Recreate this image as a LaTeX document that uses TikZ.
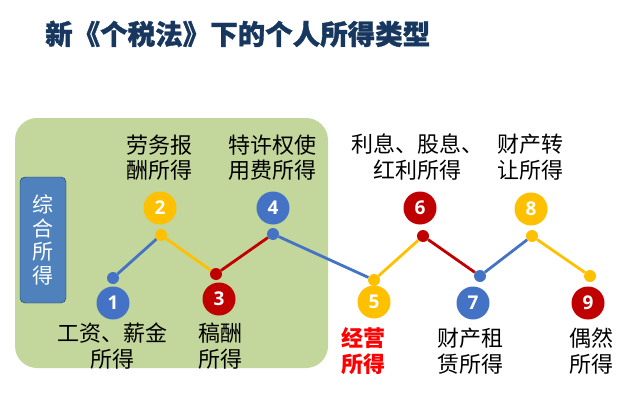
\documentclass[tikz,border=0pt]{standalone}
\usepackage{fontspec}
\newfontfamily\cjk{Noto Sans CJK SC}
\newfontfamily\cjktitle{Noto Sans CJK SC}[BoldFeatures={FakeBold=1.2}]
\newfontfamily\numfont{Open Sans}
\definecolor{titleBlue}{HTML}{17375E}
\definecolor{areaGreen}{HTML}{C3D69B}
\definecolor{boxBlue}{HTML}{4F81BD}
\definecolor{dotBlue}{HTML}{4472C4}
\definecolor{dotYellow}{HTML}{FFC000}
\definecolor{dotRed}{HTML}{C00000}
\begin{document}
\begin{tikzpicture}
[x=1pt,y=-1pt,
  lineDecorate/.style={-,line width=2.8pt},%
  bigDecorate/.style={shape=circle,minimum size=33pt,inner sep=0pt,text=white,
    font=\numfont\bfseries\fontsize{19}{19}\selectfont},%
  dotDecorate/.style={shape=circle,minimum size=12pt,inner sep=0pt},%
  labelDecorate/.style={align=center,font=\cjk\fontsize{22}{25.5}\selectfont}]
\useasboundingbox (0,0) rectangle (640,404);
%% title
\node (title) at (45,34) [anchor=west,inner sep=0pt,text=titleBlue,font=\cjktitle\bfseries\fontsize{27.5}{30}\selectfont] {新《个税法》下的个人所得类型};
%% green area and side box
\node (area) at (171.5,243) [fill=areaGreen,rounded corners=22pt,minimum width=313pt,minimum height=250pt] {};
\node (side) at (43,240) [fill=boxBlue,draw=titleBlue,rounded corners=5pt,minimum width=46pt,minimum height=126pt,
  text=white,align=center,font=\cjk\fontsize{21}{23.5}\selectfont] {综\\合\\所\\得};
%% big numbered circles
\foreach \nodename/\x/\y/\fillcolor in {
  1/113/303/dotBlue, 2/160/208/dotYellow, 3/219/299/dotRed,
  4/273/208/dotBlue, 5/374/302/dotYellow, 6/420/208/dotRed,
  7/473/303/dotBlue, 8/531/209/dotYellow, 9/588/303/dotRed}
{
  \node (n\nodename) at (\x,\y) [bigDecorate,fill=\fillcolor] {\nodename};
}
%% small dots
\foreach \nodename/\x/\y/\fillcolor in {
  1/113/278/dotBlue, 2/161/235/dotYellow, 3/216/274/dotRed,
  4/273/234/dotBlue, 5/374/280/dotYellow, 6/423/236/dotRed,
  7/480/276/dotBlue, 8/532/236/dotYellow, 9/590/276/dotYellow}
{
  \node (d\nodename) at (\x,\y) [dotDecorate,fill=\fillcolor] {};
}
%% zigzag lines
\path
\foreach \startnode/\endnode/\linecolor in {
  1/2/dotBlue, 2/3/dotYellow, 3/4/dotRed, 4/5/dotBlue,
  5/6/dotYellow, 6/7/dotRed, 7/8/dotBlue, 8/9/dotYellow}
{
  (d\startnode) edge[lineDecorate,draw=\linecolor] (d\endnode)
};
%% labels
\node (l1) at (112.5,346) [labelDecorate] {工资、薪金\\所得};
\node (l2) at (159.5,157.5) [labelDecorate] {劳务报\\酬所得};
\node (l3) at (220,346) [labelDecorate] {稿酬\\所得};
\node (l4) at (272,157.5) [labelDecorate] {特许权使\\用费所得};
\node (l5) at (363.5,351) [labelDecorate,text=red,font=\cjk\bfseries\fontsize{22}{25.5}\selectfont] {经营\\所得};
\node (l6) at (417,157) [labelDecorate] {利息、股息、\\红利所得};
\node (l7) at (470,351) [labelDecorate,align=left] {财产租\\赁所得};
\node (l8) at (530,157) [labelDecorate,align=left] {财产转\\让所得};
\node (l9) at (591,351) [labelDecorate] {偶然\\所得};
\end{tikzpicture}
\end{document}
